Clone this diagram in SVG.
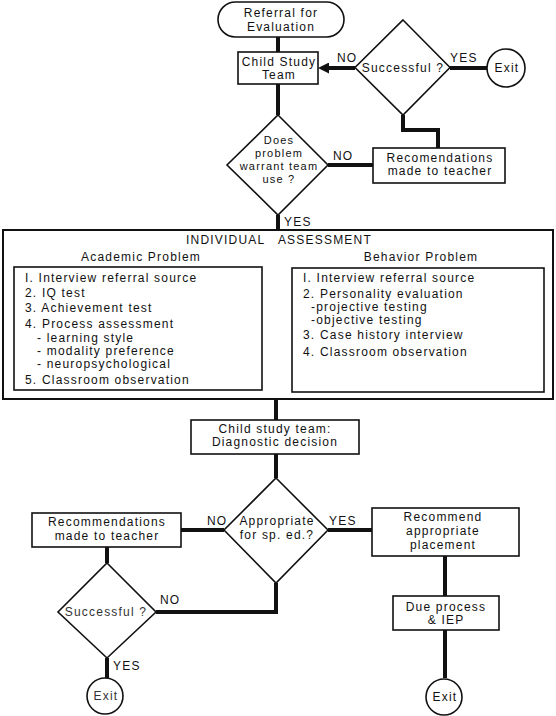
<svg xmlns="http://www.w3.org/2000/svg" width="556" height="716" viewBox="0 0 556 716">
<style>
text{font-family:"Liberation Sans",Arial,Helvetica,sans-serif;font-size:12px;letter-spacing:1.2px;fill:#111}
.c{text-anchor:middle}
.s{font-size:11px}
.box{fill:#fff;stroke:#111;stroke-width:1.6}
.outer{fill:#fff;stroke:#111;stroke-width:2}
.con{fill:none;stroke:#111;stroke-width:4;stroke-linejoin:miter}
.thin{font-weight:normal;fill:#333;letter-spacing:1.2px}
</style>
<defs>
<marker id="ah" viewBox="0 0 10 10" refX="0" refY="5" markerWidth="11" markerHeight="11" markerUnits="userSpaceOnUse" orient="auto">
<path d="M0,0 L10,5 L0,10 z" fill="#111"/>
</marker>
</defs>
<rect width="556" height="716" fill="#fff"/>

<g id="connectors">
<line class="con" x1="278" y1="37" x2="278" y2="52"/>
<line class="con" x1="355" y1="68" x2="329" y2="68" marker-end="url(#ah)"/>
<line class="con" x1="450" y1="68" x2="487" y2="68"/>
<polyline class="con" points="403,115 403,130 438,130 438,148"/>
<line class="con" x1="278" y1="84" x2="278" y2="115"/>
<line class="con" x1="328" y1="165" x2="373" y2="165"/>
<line class="con" x1="278" y1="215" x2="278" y2="231"/>
<line class="con" x1="262" y1="308" x2="282" y2="308" marker-end="url(#ah)"/>
<line class="con" x1="292" y1="350" x2="273" y2="350" marker-end="url(#ah)"/>
<line class="con" x1="276" y1="399" x2="276" y2="420"/>
<line class="con" x1="276" y1="454" x2="276" y2="478"/>
<line class="con" x1="181" y1="530" x2="224" y2="530"/>
<line class="con" x1="328" y1="530" x2="372" y2="530"/>
<line class="con" x1="107" y1="547" x2="107" y2="563"/>
<polyline class="con" points="156,612 276,612 276,583"/>
<line class="con" x1="107" y1="658" x2="107" y2="678"/>
<line class="con" x1="445" y1="556" x2="445" y2="596"/>
<line class="con" x1="445" y1="630" x2="445" y2="678"/>
<text x="337" y="62">NO</text>
<text x="450" y="62">YES</text>
<text x="333" y="160">NO</text>
<text x="284" y="226">YES</text>
<text x="207" y="525">NO</text>
<text x="329" y="525">YES</text>
<text x="160" y="604">NO</text>
<text x="113" y="670">YES</text>
</g>

<g id="referral">
<rect class="box" x="218" y="2" width="126" height="35" rx="17.5"/>
<text class="c" x="281" y="17">Referral for</text>
<text class="c" x="281" y="31">Evaluation</text>
</g>

<g id="child-study-team">
<rect class="box" x="238" y="52" width="80" height="32"/>
<text class="c" x="279" y="66">Child Study</text>
<text class="c" x="279" y="79">Team</text>
</g>

<g id="successful-top">
<polygon class="box" points="403,20 450,67.5 403,115 355,67.5"/>
<text class="c" x="403" y="72">Successful ?</text>
</g>

<g id="exit-top">
<circle class="box" cx="506" cy="68" r="19"/>
<text class="c" x="507" y="72">Exit</text>
</g>

<g id="recomendations-top">
<rect class="box" x="373" y="148" width="132" height="35"/>
<text class="c" x="440" y="162">Recomendations</text>
<text class="c" x="440" y="175">made to teacher</text>
</g>

<g id="warrant">
<polygon class="box" points="278,115 328,165 278,215 227,165"/>
<text class="c s" x="279" y="144">Does</text>
<text class="c s" x="279" y="157">problem</text>
<text class="c s" x="279" y="170">warrant team</text>
<text class="c s" x="279" y="183">use ?</text>
</g>

<g id="individual-assessment">
<rect class="outer" x="3" y="230" width="550" height="169"/>
<text class="c" x="279" y="244" style="white-space:pre">INDIVIDUAL   ASSESSMENT</text>
<text class="c" x="141" y="261">Academic Problem</text>
<text class="c" x="421" y="261">Behavior Problem</text>
</g>

<g id="academic">
<rect class="box" x="14" y="267" width="248" height="123"/>
<text x="25" y="282">I. Interview referral source</text>
<text x="25" y="297">2. IQ test</text>
<text x="25" y="312">3. Achievement test</text>
<text x="25" y="328">4. Process assessment</text>
<text x="37" y="342">- learning style</text>
<text x="37" y="355">- modality preference</text>
<text x="37" y="368">- neuropsychological</text>
<text x="25" y="384">5. Classroom observation</text>
</g>

<g id="behavior">
<rect class="box" x="292" y="268" width="252" height="124"/>
<text x="303" y="282">I. Interview referral source</text>
<text x="303" y="298">2. Personality evaluation</text>
<text x="311" y="311">-projective testing</text>
<text x="311" y="324">-objective testing</text>
<text x="303" y="339">3. Case history interview</text>
<text x="303" y="356">4. Classroom observation</text>
</g>

<g id="diagnostic">
<rect class="box" x="191" y="420" width="168" height="34"/>
<text class="c" x="275" y="433">Child study team:</text>
<text class="c" x="275" y="446">Diagnostic decision</text>
</g>

<g id="appropriate">
<polygon class="box" points="276,478 328,530 276,583 224,530"/>
<text class="c" x="277" y="525">Appropriate</text>
<text class="c" x="277" y="539">for sp. ed.?</text>
</g>

<g id="recommendations-bottom">
<rect class="box" x="32" y="513" width="149" height="34"/>
<text class="c" x="107" y="526">Recommendations</text>
<text class="c" x="107" y="540">made to teacher</text>
</g>

<g id="recommend-placement">
<rect class="box" x="372" y="508" width="147" height="48"/>
<text class="c" x="443" y="521">Recommend</text>
<text class="c" x="443" y="535">appropriate</text>
<text class="c" x="443" y="549">placement</text>
</g>

<g id="successful-bottom">
<polygon class="box" points="107,563 156,612 107,658 58,612"/>
<text class="c thin" x="106" y="616">Successful ?</text>
</g>

<g id="exit-bottom-left">
<circle class="box" cx="105" cy="696" r="18"/>
<text class="c thin" x="106" y="700">Exit</text>
</g>

<g id="due-process">
<rect class="box" x="393" y="596" width="106" height="34"/>
<text class="c" x="446" y="611">Due process</text>
<text class="c" x="446" y="624">&amp; IEP</text>
</g>

<g id="exit-bottom-right">
<circle class="box" cx="444" cy="697" r="18"/>
<text class="c" x="445" y="701">Exit</text>
</g>
</svg>
